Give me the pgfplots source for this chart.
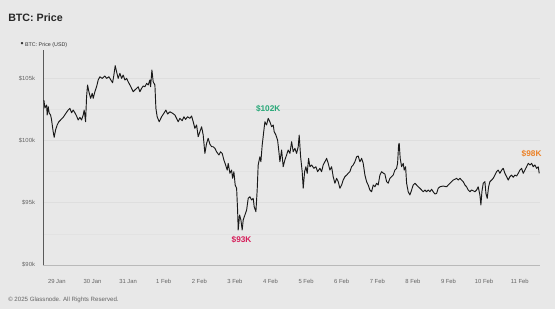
\documentclass[border=0pt]{standalone}
\usepackage{pgfplots}
\pgfplotsset{compat=1.18}
\usepackage{fontspec}
\setmainfont{Liberation Sans}
\definecolor{bg}{RGB}{232,232,232}
\definecolor{gridc}{RGB}{222,222,222}
\definecolor{tickc}{RGB}{100,100,100}
\definecolor{axc}{RGB}{90,90,90}
\definecolor{upc}{RGB}{40,168,120}
\definecolor{downc}{RGB}{214,30,90}
\definecolor{lastc}{RGB}{236,130,40}
\begin{document}
\begin{tikzpicture}
\fill[bg] (-32.25pt,-33pt) rectangle (384pt,198.75pt);
\node[anchor=west,font=\fontsize{8}{9}\selectfont\bfseries,text=black!85,inner sep=0] at (-26.25pt,185.25pt) {BTC: Price};
\node[anchor=west,font=\fontsize{4}{5}\selectfont,text=black!80,inner sep=0] at (-17pt,165pt) {{\fontsize{6.5}{6}\selectfont\textbullet}\ BTC: Price (USD)};
\node[anchor=west,font=\fontsize{4.6}{5.5}\selectfont,text=tickc,inner sep=0] at (-26.25pt,-26.25pt) {\textcopyright\ 2025 Glassnode. All Rights Reserved.};
\begin{axis}[
  scale only axis,
  width=372.75pt, height=161.25pt,
  at={(0pt,0pt)}, anchor=south west,
  xmin=-0.39, xmax=13.57,
  ymin=90, ymax=107.26,
  axis lines*=left,
  x axis line style={-,draw=gridc!80!black!90},
  y axis line style={-,draw=axc,line width=0.6pt},
  xtick={0,1,2,3,4,5,6,7,8,9,10,11,12,13},
  xticklabels={29 Jan,30 Jan,31 Jan,1 Feb,2 Feb,3 Feb,4 Feb,5 Feb,6 Feb,7 Feb,8 Feb,9 Feb,10 Feb,11 Feb},
  ytick={90,95,100,105},
  yticklabels={\$90k,\$95k,\$100k,\$105k},
  minor ytick={92.5,97.5,102.5},
  ymajorgrids, yminorgrids,
  major grid style={draw=gridc,line width=0.5pt},
  minor grid style={draw=gridc!60!bg,line width=0.4pt},
  major tick length=0pt, minor tick length=0pt,
  tick label style={font=\fontsize{4.4}{5}\selectfont,text=tickc},
  xticklabel style={yshift=-7pt},
  yticklabel style={xshift=-2.5pt},
  clip=false,
]
\addplot[black!90, line width=0.7pt, line join=round] coordinates {
(-0.365,103.24) (-0.337,102.60) (-0.289,102.84) (-0.272,102.04) (-0.244,102.71) (-0.216,102.20) (-0.177,102.04) (-0.149,101.64)
(-0.104,100.70) (-0.076,100.25) (-0.037,100.84) (0.008,101.24) (0.056,101.50) (0.104,101.64) (0.177,101.85) (0.253,102.18)
(0.317,102.44) (0.365,102.58) (0.413,102.22) (0.458,102.44) (0.506,102.22) (0.553,101.96) (0.598,101.64) (0.646,101.85)
(0.694,101.64) (0.739,102.04) (0.767,102.44) (0.806,101.50) (0.834,103.51) (0.862,104.45) (0.899,103.91) (0.947,103.38)
(0.992,103.78) (1.020,103.38) (1.067,103.91) (1.115,104.31) (1.160,104.85) (1.208,105.11) (1.272,104.98) (1.348,105.17)
(1.396,104.98) (1.461,105.11) (1.517,104.85) (1.565,104.63) (1.601,105.25) (1.638,106.00) (1.677,105.51) (1.722,104.98)
(1.770,105.39) (1.817,104.98) (1.862,105.25) (1.910,104.85) (1.958,104.98) (2.003,104.71) (2.051,104.45) (2.098,104.18)
(2.143,103.91) (2.191,104.05) (2.239,104.18) (2.284,104.31) (2.331,103.91) (2.379,104.18) (2.424,104.37) (2.472,104.31)
(2.520,104.58) (2.565,104.45) (2.612,104.85) (2.632,104.31) (2.669,105.65) (2.705,104.71) (2.753,104.45) (2.781,102.58)
(2.817,101.90) (2.874,101.50) (2.941,101.90) (3.006,102.18) (3.062,102.44) (3.110,102.12) (3.174,102.30) (3.250,102.18)
(3.315,102.04) (3.362,101.77) (3.407,101.50) (3.455,101.77) (3.520,101.58) (3.567,101.90) (3.615,101.69) (3.671,101.90)
(3.736,101.77) (3.784,101.96) (3.829,101.50) (3.876,100.97) (3.924,101.24) (3.969,100.30) (4.017,100.70) (4.065,101.10)
(4.110,100.43) (4.157,98.96) (4.205,99.77) (4.250,100.17) (4.298,99.70) (4.346,99.50) (4.390,99.49) (4.438,99.37)
(4.486,99.09) (4.551,98.83) (4.598,99.09) (4.643,98.96) (4.691,98.43) (4.739,98.03) (4.784,97.62) (4.812,98.16)
(4.860,97.36) (4.907,97.62) (4.935,96.96) (4.972,97.49) (5.008,96.42) (5.048,96.16) (5.076,94.41) (5.093,92.81)
(5.132,94.01) (5.169,93.61) (5.205,92.81) (5.233,93.61) (5.281,94.01) (5.329,94.41) (5.374,95.35) (5.421,95.48)
(5.469,95.22) (5.514,95.35) (5.542,94.68) (5.590,94.28) (5.626,96.02) (5.654,98.03) (5.702,98.69) (5.730,98.29)
(5.767,99.63) (5.815,100.84) (5.843,101.50) (5.890,101.24) (5.935,101.77) (5.983,101.50) (6.031,101.10) (6.076,101.24)
(6.104,100.70) (6.152,100.43) (6.199,100.03) (6.236,99.09) (6.264,98.29) (6.312,99.23) (6.357,97.89) (6.404,98.43)
(6.452,98.83) (6.497,99.23) (6.545,98.96) (6.593,99.90) (6.638,99.09) (6.685,99.37) (6.733,98.96) (6.778,99.49)
(6.806,100.43) (6.846,98.69) (6.890,97.49) (6.919,96.16) (6.958,97.49) (6.994,97.89) (7.031,97.36) (7.070,98.56)
(7.107,97.89) (7.154,98.03) (7.219,97.76) (7.275,97.89) (7.323,97.49) (7.388,97.76) (7.435,97.49) (7.480,98.03)
(7.528,98.29) (7.576,98.56) (7.621,98.16) (7.669,97.62) (7.716,97.89) (7.761,97.09) (7.809,96.56) (7.857,96.96)
(7.902,96.69) (7.949,96.16) (7.997,96.42) (8.042,96.82) (8.090,97.09) (8.138,97.22) (8.183,97.36) (8.230,97.49)
(8.278,97.89) (8.323,98.03) (8.371,98.29) (8.419,98.69) (8.463,98.75) (8.511,98.29) (8.559,98.56) (8.604,98.16)
(8.652,97.22) (8.699,96.69) (8.744,96.42) (8.792,96.02) (8.840,95.88) (8.885,96.42) (8.933,96.28) (8.980,96.56)
(9.025,96.42) (9.073,97.22) (9.121,97.49) (9.166,97.38) (9.213,97.30) (9.261,96.69) (9.306,96.56) (9.354,96.96)
(9.402,97.09) (9.447,97.22) (9.494,97.62) (9.542,97.76) (9.570,98.16) (9.598,99.63) (9.615,99.77) (9.643,98.56)
(9.683,97.89) (9.728,98.16) (9.756,97.62) (9.795,97.89) (9.823,96.56) (9.868,95.88) (9.916,95.62) (9.963,96.02)
(10.008,96.42) (10.056,96.56) (10.104,96.42) (10.149,96.28) (10.197,96.16) (10.244,96.02) (10.289,95.88) (10.337,96.02)
(10.385,95.88) (10.430,96.02) (10.478,95.88) (10.525,96.08) (10.570,95.88) (10.618,95.70) (10.666,95.75) (10.711,96.16)
(10.758,96.28) (10.851,96.34) (10.947,96.28) (10.992,96.42) (11.039,96.56) (11.087,96.69) (11.132,96.82) (11.180,96.88)
(11.228,96.96) (11.272,96.82) (11.320,96.96) (11.368,96.82) (11.413,96.69) (11.461,96.42) (11.508,96.28) (11.553,96.02)
(11.601,95.88) (11.649,96.02) (11.694,95.96) (11.742,95.88) (11.789,96.02) (11.834,96.28) (11.882,95.62) (11.910,94.82)
(11.938,95.88) (11.975,96.56) (12.022,96.69) (12.051,95.75) (12.087,95.35) (12.126,96.28) (12.163,96.69) (12.211,96.82)
(12.256,96.96) (12.303,97.22) (12.351,97.49) (12.396,97.62) (12.444,97.36) (12.492,97.62) (12.537,97.76) (12.584,97.36)
(12.632,97.09) (12.677,96.82) (12.725,97.09) (12.772,97.22) (12.817,97.04) (12.865,97.22) (12.913,97.14) (12.958,97.36)
(13.006,97.62) (13.053,97.76) (13.098,97.36) (13.146,97.62) (13.194,97.89) (13.239,98.16) (13.287,98.03) (13.334,98.16)
(13.379,97.89) (13.427,98.03) (13.475,97.76) (13.520,97.89) (13.548,97.36)
};
\node[font=\fontsize{6.2}{7}\selectfont\bfseries,text=upc] at (axis cs:5.935,102.58) {\$102K};
\node[font=\fontsize{6.2}{7}\selectfont\bfseries,text=downc] at (axis cs:5.188,92.0) {\$93K};
\node[font=\fontsize{6.2}{7}\selectfont\bfseries,text=lastc] at (axis cs:13.334,98.96) {\$98K};
\end{axis}
\end{tikzpicture}
\end{document}
